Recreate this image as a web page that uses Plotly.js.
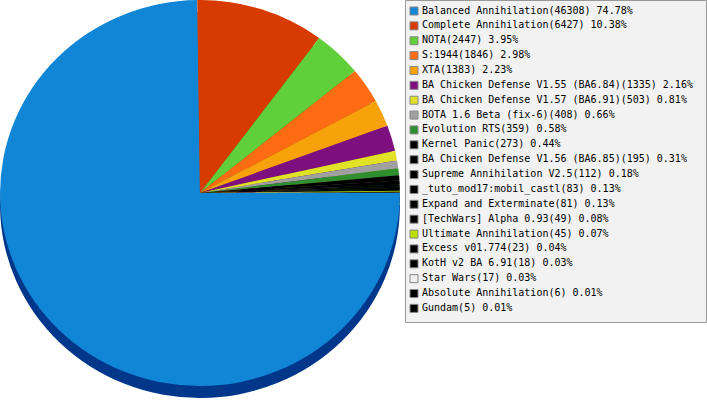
<!DOCTYPE html>
<html>
<head>
<meta charset="utf-8">
<script src="https://cdn.plot.ly/plotly-3.0.1.min.js"></script>
<style>html,body{margin:0;padding:0;background:#fff;}#chart{width:707px;height:400px;}</style>
</head>
<body>
<div id="chart"></div>
<script>
const mods = ["Balanced Annihilation","Complete Annihilation","NOTA","S:1944","XTA",
  "BA Chicken Defense V1.55 (BA6.84)","BA Chicken Defense V1.57 (BA6.91)","BOTA 1.6 Beta (fix-6)",
  "Evolution RTS","Kernel Panic","BA Chicken Defense V1.56 (BA6.85)","Supreme Annihilation V2.5",
  "_tuto_mod17:mobil_castl","Expand and Exterminate","[TechWars] Alpha 0.93","Ultimate Annihilation",
  "Excess v01.774","KotH v2 BA 6.91","Star Wars","Absolute Annihilation","Gundam"];
const counts = [46308,6427,2447,1846,1383,1335,503,408,359,273,195,112,83,81,49,45,23,18,17,6,5];
const percents = ["74.78%","10.38%","3.95%","2.98%","2.23%","2.16%","0.81%","0.66%","0.58%","0.44%",
  "0.31%","0.18%","0.13%","0.13%","0.08%","0.07%","0.04%","0.03%","0.03%","0.01%","0.01%"];
const colors = ["#1185d6","#d83b01","#60cf39","#fd6b13","#f8a20b","#7e0f7f","#e1e128","#a0a0a0",
  "#2f8f2f","#000000","#000000","#000000","#000000","#000000","#000000","#b9e000","#000000",
  "#000000","#eeeeee","#000000","#000000"];
const shadowColors = ["#00378a","#8a2400","#3a8a20","#a8440a","#a46a05","#4a064a","#8e8e14","#666666",
  "#1a5a1a","#000000","#000000","#000000","#000000","#000000","#000000","#748e00","#000000",
  "#000000","#999999","#000000","#000000"];

const W = 707, H = 400;
const CX = 200;          // pie centre, px
const STRETCH = 1.036;   // horizontal stretch to make the pie an ellipse
const labels = mods.map((m,i)=> m + "(" + counts[i] + ") " + percents[i]);
const rows = mods.map((m,i)=> i);

const shadow = {
  type:'pie', values:counts, labels:mods, sort:false, direction:'clockwise', rotation:90,
  marker:{colors:shadowColors, line:{width:0}}, textinfo:'none', hoverinfo:'skip',
  domain:{x:[(CX-194)/W, (CX+194)/W], y:[1-398/H, 1-12/H]}, showlegend:false
};
const face = {
  type:'pie', values:counts, labels:mods, sort:false, direction:'clockwise', rotation:90,
  marker:{colors:colors, line:{width:0}}, textinfo:'none', hoverinfo:'skip',
  domain:{x:[(CX-194)/W, (CX+194)/W], y:[1-386/H, 1]}, showlegend:false
};
const swatches = {
  type:'scatter', mode:'markers', x:rows.map(()=>9), y:rows, xaxis:'x', yaxis:'y',
  marker:{symbol:'square', size:8, color:colors, line:{color:'#888888', width:1}},
  hoverinfo:'skip', showlegend:false
};
const texts = {
  type:'scatter', mode:'text', x:rows.map(()=>17), y:rows, xaxis:'x', yaxis:'y',
  text:labels, textposition:'middle right',
  textfont:{family:'DejaVu Sans Mono, monospace', size:10, color:'#000'},
  hoverinfo:'skip', showlegend:false
};

const layout = {
  width:W, height:H, margin:{l:0,r:0,t:0,b:0},
  paper_bgcolor:'#ffffff', plot_bgcolor:'rgba(0,0,0,0)',
  xaxis:{domain:[405/W, 706/W], range:[0,301], visible:false, fixedrange:true},
  yaxis:{domain:[0,1], range:[(H-11)/14.87, -11/14.87], visible:false, fixedrange:true},
  shapes:[{type:'rect', xref:'paper', yref:'paper', layer:'below',
    x0:405.5/W, x1:706.5/W, y0:1-322.5/H, y1:1-0.5/H,
    fillcolor:'#f2f2f2', line:{color:'#999999', width:1}}],
  showlegend:false
};
Plotly.newPlot('chart', [shadow, face, swatches, texts], layout, {staticPlot:true, displayModeBar:false})
  .then(gd => {
    gd.querySelectorAll('.pielayer').forEach(g => {
      const prev = g.getAttribute('transform') || '';
      g.setAttribute('transform', `translate(${CX},0) scale(${STRETCH},1) translate(${-CX},0) ${prev}`);
    });
  });
</script>
</body>
</html>
